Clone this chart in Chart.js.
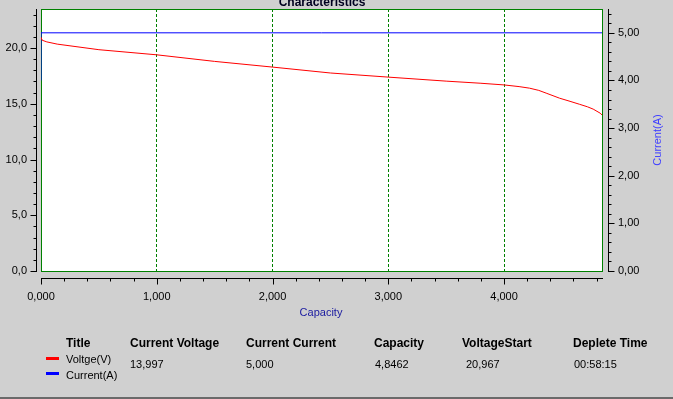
<!DOCTYPE html>
<html>
<head>
<meta charset="utf-8">
<script src="https://cdn.jsdelivr.net/npm/chart.js@4/dist/chart.umd.min.js"></script>
<style>
    body { margin: 0; background: #d0d0d0; font-family: Arial, "Liberation Sans", sans-serif; }
    #wrap { position: relative; width: 673px; height: 399px; overflow: hidden; }
    #wrap canvas { position: absolute; left: 0; top: 0; }
    .txt { position: absolute; font-size: 11px; line-height: 14px; color: #000; white-space: nowrap; }
    .hd { font-weight: bold; font-size: 12px; }
    .sw { position: absolute; width: 13px; height: 3px; }
    #bottomLine { position: absolute; left: 0; top: 397px; width: 673px; height: 2px; background: #6a6a6a; }
</style>
</head>
<body>
<div id="wrap">
    <canvas id="chart" width="673" height="399"></canvas>
    <div class="txt hd" style="left: 277px; top: -5px; width: 90px; text-align: center; color: #000020;">Characteristics</div>
    <div class="txt" style="left: 291px; top: 305px; width: 60px; text-align: center; color: #1a1aa0;">Capacity</div>
    <div class="txt" style="left: 627px; top: 133px; width: 60px; text-align: center; color: #4040ff; transform: rotate(-90deg);">Current(A)</div>

    <div class="txt hd" style="left: 66px; top: 336px;">Title</div>
    <div class="txt hd" style="left: 130px; top: 336px;">Current Voltage</div>
    <div class="txt hd" style="left: 246px; top: 336px;">Current Current</div>
    <div class="txt hd" style="left: 374px; top: 336px;">Capacity</div>
    <div class="txt hd" style="left: 462px; top: 336px;">VoltageStart</div>
    <div class="txt hd" style="left: 573px; top: 336px;">Deplete Time</div>

    <div class="sw" style="left: 46px; top: 357px; background: #ff0000;"></div>
    <div class="txt" style="left: 66px; top: 352px;">Voltge(V)</div>
    <div class="sw" style="left: 46px; top: 372px; background: #0000ff;"></div>
    <div class="txt" style="left: 66px; top: 368px;">Current(A)</div>

    <div class="txt" style="left: 130px; top: 357px;">13,997</div>
    <div class="txt" style="left: 246px; top: 357px;">5,000</div>
    <div class="txt" style="left: 375px; top: 357px;">4,8462</div>
    <div class="txt" style="left: 466px; top: 357px;">20,967</div>
    <div class="txt" style="left: 574px; top: 357px;">00:58:15</div>
    <div id="bottomLine"></div>
</div>
<script>
// voltage curve
const capacity = [0, 0.01, 0.05, 0.14, 0.5, 1.0, 1.5, 2.0, 2.5, 3.0, 3.5, 3.8, 4.0, 4.13, 4.22, 4.3, 4.37, 4.48, 4.57, 4.65, 4.72, 4.77, 4.83, 4.8462];
const voltage = [20.97, 20.7, 20.55, 20.35, 19.85, 19.39, 18.8, 18.29, 17.76, 17.39, 17.03, 16.84, 16.69, 16.54, 16.4, 16.2, 15.93, 15.5, 15.22, 14.96, 14.73, 14.52, 14.16, 14.0];

// current
const currentCap = [0, 0, 4.8462];
const current = [4.0, 5.0, 5.0];

// axis ranges
const capMax = 4.8462;
const voltMax = 23.5;
const currMax = 5.5;

const green = "#008000";
const fontTicks = { family: "Arial, 'Liberation Sans'", size: 11 };

function toPoints(xs, ys) {
    return xs.map((x, i) => ({ x: x, y: ys[i] }));
}

function isMultiple(v, step) {
    return Math.abs(v / step - Math.round(v / step)) < 1e-6;
}

function comma(v, digits) {
    return v.toFixed(digits).replace(".", ",");
}

function fitVertical(width) {
    return (scale) => {
        scale.width = width;
        scale.paddingTop = 0;
        scale.paddingBottom = 0;
    };
}

const frame = {
    id: "frame",
    beforeDraw(chart) {
        const { ctx, chartArea: a } = chart;
        ctx.save();
        ctx.fillStyle = "#ffffff";
        ctx.fillRect(a.left, a.top, a.right - a.left, a.bottom - a.top);
        ctx.restore();
    },
    beforeDatasetsDraw(chart) {
        const { ctx, chartArea: a } = chart;
        ctx.save();
        ctx.strokeStyle = green;
        ctx.lineWidth = 1;
        ctx.strokeRect(a.left + 0.5, a.top + 0.5, a.right - a.left, a.bottom - a.top);
        ctx.restore();
    },
    afterDraw(chart) {
        const { ctx, chartArea: a, scales } = chart;
        ctx.save();
        ctx.strokeStyle = "#000000";
        ctx.lineWidth = 1;
        ctx.beginPath();

        // left axis
        const xl = a.left - 4.5;
        ctx.moveTo(xl, a.top);
        ctx.lineTo(xl, a.bottom + 1);
        for (let t of scales.y.ticks) {
            const p = Math.round(scales.y.getPixelForValue(t.value)) + 0.5;
            ctx.moveTo(xl, p);
            ctx.lineTo(xl - (isMultiple(t.value, 5) ? 6 : 3), p);
        }

        // right axis
        const xr = a.right + 6.5;
        ctx.moveTo(xr, a.top);
        ctx.lineTo(xr, a.bottom + 1);
        for (let t of scales.y1.ticks) {
            const p = Math.round(scales.y1.getPixelForValue(t.value)) + 0.5;
            ctx.moveTo(xr, p);
            ctx.lineTo(xr + (isMultiple(t.value, 1) ? 6 : 3), p);
        }

        // bottom axis
        const yb = a.bottom + 7.5;
        ctx.moveTo(a.left, yb);
        ctx.lineTo(a.right + 1, yb);
        for (let t of scales.x.ticks) {
            const p = Math.round(scales.x.getPixelForValue(t.value)) + 0.5;
            ctx.moveTo(p, yb);
            ctx.lineTo(p, yb + (isMultiple(t.value, 1) ? 6 : 3));
        }

        ctx.stroke();
        ctx.restore();
    },
};

new Chart(document.getElementById("chart"), {
    type: "scatter",
    data: {
        datasets: [
            {
                label: "Voltge(V)",
                data: toPoints(capacity, voltage),
                showLine: true,
                borderColor: "#ff0000",
                borderWidth: 1,
                pointRadius: 0,
                tension: 0,
                yAxisID: "y",
            },
            {
                label: "Current(A)",
                data: toPoints(currentCap, current),
                showLine: true,
                borderColor: "#0000ff",
                borderWidth: 1,
                pointRadius: 0,
                tension: 0,
                yAxisID: "y1",
            },
        ],
    },
    options: {
        responsive: false,
        animation: false,
        events: [],
        layout: { padding: { top: 9, left: 0, right: 0, bottom: 88 } },
        plugins: {
            legend: { display: false },
            title: { display: false },
            tooltip: { enabled: false },
        },
        scales: {
            x: {
                type: "linear",
                min: 0,
                max: capMax,
                afterFit: (scale) => {
                    scale.height = 40;
                    scale.paddingLeft = 0;
                    scale.paddingRight = 0;
                },
                border: { display: false, dash: [3, 2] },
                grid: {
                    drawTicks: false,
                    color: (c) => (c.tick && c.tick.value > 0 && isMultiple(c.tick.value, 1) ? green : "rgba(0,0,0,0)"),
                    lineWidth: 1,
                },
                ticks: {
                    stepSize: 0.2,
                    includeBounds: false,
                    autoSkip: false,
                    maxRotation: 0,
                    padding: 19,
                    color: "#000000",
                    font: fontTicks,
                    callback: (v) => (isMultiple(v, 1) ? comma(v, 3) : ""),
                },
            },
            y: {
                position: "left",
                min: 0,
                max: voltMax,
                afterFit: fitVertical(41),
                border: { display: false },
                grid: { display: false, drawTicks: false },
                ticks: {
                    stepSize: 1,
                    includeBounds: false,
                    autoSkip: false,
                    padding: 14,
                    color: "#000000",
                    font: fontTicks,
                    callback: (v) => (isMultiple(v, 5) ? comma(v, 1) : ""),
                },
            },
            y1: {
                position: "right",
                min: 0,
                max: currMax,
                afterFit: fitVertical(71),
                border: { display: false },
                grid: { display: false, drawTicks: false },
                ticks: {
                    stepSize: 0.2,
                    includeBounds: false,
                    autoSkip: false,
                    padding: 16,
                    color: "#000000",
                    font: fontTicks,
                    callback: (v) => (isMultiple(v, 1) ? comma(v, 2) : ""),
                },
            },
        },
    },
    plugins: [frame],
});
</script>
</body>
</html>
